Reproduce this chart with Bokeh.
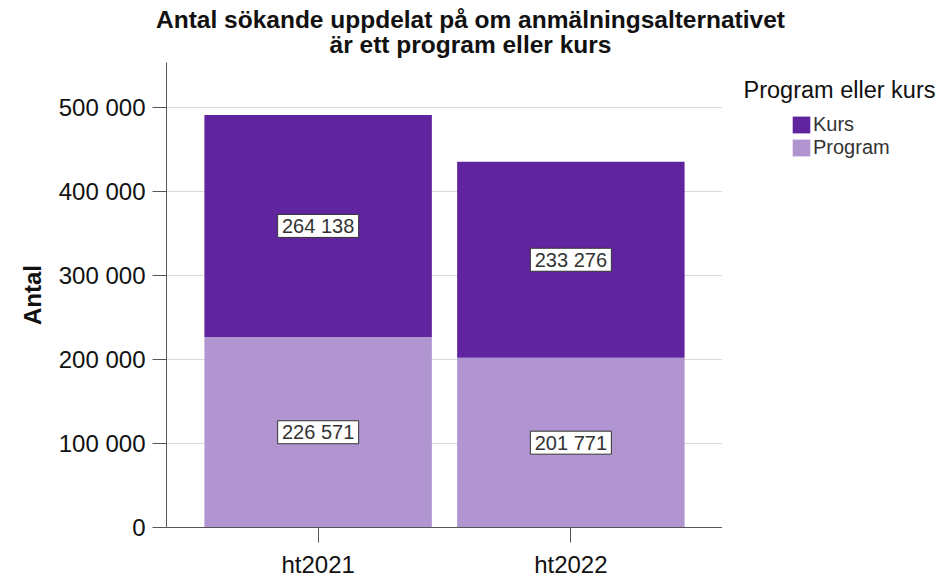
from bokeh.plotting import figure
from bokeh.layouts import column, row
from bokeh.models import (FactorRange, Range1d, FixedTicker, CustomJSTickFormatter,
                          Label, Legend, LegendItem)
from bokeh.core.properties import value
from bokeh.embed import file_html
from bokeh.resources import INLINE

terms = ["ht2021", "ht2022"]
program = [226571, 201771]
kurs = [264138, 233276]
yticks = [0, 100000, 200000, 300000, 400000, 500000]
title_lines = ["Antal sökande uppdelat på om anmälningsalternativet", "är ett program eller kurs"]
legend_title = "Program eller kurs"
y_label = "Antal"

c_kurs = "#60259E"
c_prog = "#B195D1"
FONT = "Liberation Sans"
source = dict(x=terms, Program=program, Kurs=kurs)


def bare(w, h, **kw):
    f = figure(width=w, height=h, output_backend="svg", toolbar_location=None,
               title_location=None, x_axis_type=None, y_axis_type=None,
               min_border=0, **kw)
    f.outline_line_color = None
    f.grid.visible = False
    return f


# ---- title strip ----
tf = bare(944, 62, x_range=Range1d(0, 1), y_range=Range1d(0, 1))
for line, yy in zip(title_lines, (43, 18)):
    tf.add_layout(Label(x=470, y=yy, x_units="screen", y_units="screen",
                        text=line, text_align="center", text_baseline="middle",
                        text_font=FONT, text_font_size="24.5px", text_font_style="bold",
                        text_color="#111111"))

# ---- main chart ----
p = figure(width=722, height=518, output_backend="svg", toolbar_location=None,
           title_location=None,
           x_range=FactorRange(factors=terms, range_padding=0.1),
           y_range=Range1d(0, 553000),
           min_border_left=166, min_border_right=0, min_border_top=0, min_border_bottom=52)
p.outline_line_color = None
rs = p.vbar_stack(["Program", "Kurs"], x="x", width=0.9, source=source,
                  color=[c_prog, c_kurs], line_color=None)

p.xgrid.grid_line_color = None
p.ygrid.grid_line_color = "#dadada"
p.yaxis.ticker = FixedTicker(ticks=yticks)
p.yaxis.formatter = CustomJSTickFormatter(code=r"return tick.toString().replace(/\B(?=(\d{3})+(?!\d))/g, ' ');")
for ax in (p.xaxis, p.yaxis):
    ax.axis_line_color = "#555555"
    ax.major_tick_line_color = "#555555"
    ax.major_tick_in = 0
    ax.minor_tick_line_color = None
    ax.major_label_text_font = FONT
    ax.major_label_text_color = "#111111"
p.yaxis.major_label_text_font_size = "24px"
p.xaxis.major_label_text_font_size = "24px"
p.yaxis.major_tick_out = 14
p.yaxis.major_label_standoff = 7
p.xaxis.major_tick_out = 15
p.xaxis.major_label_standoff = 8
p.yaxis.axis_label = y_label
p.yaxis.axis_label_text_font = FONT
p.yaxis.axis_label_text_font_size = "24px"
p.yaxis.axis_label_text_font_style = "bold"
p.yaxis.axis_label_text_color = "#111111"
p.yaxis.axis_label_standoff = 10

lx, ly, lt = [], [], []
for i, t in enumerate(terms):
    for bottom, val in ((0, program[i]), (program[i], kurs[i])):
        lx.append(t)
        ly.append(bottom + val / 2)
        lt.append(f"{val:,}".replace(",", " "))
lab = dict(x=lx, y=ly, t=lt)
p.rect(x="x", y="y", width=81, height=23, width_units="screen", height_units="screen",
       source=lab, fill_color="white", line_color="#333333", line_width=1)
p.text(x="x", y="y", text="t", source=lab, text_align="center", text_baseline="middle",
       text_font=value(FONT), text_font_size="20px", text_color="#333333")

# ---- legend strip (frame aligned with the chart frame; its bars are zero-width, out of view) ----
lf = bare(222, 518, x_range=FactorRange(factors=terms), y_range=Range1d(-1.2e6, -0.6e6))
lrs = lf.vbar_stack(["Program", "Kurs"], x="x", width=0, source=source,
                    color=[c_prog, c_kurs], line_color=None)
lf.add_layout(Label(x=21, y=438, x_units="screen", y_units="screen", text=legend_title,
                    text_align="left", text_baseline="middle", text_font=FONT,
                    text_font_size="23.5px", text_color="#111111"))
legend = Legend(items=[LegendItem(label="Kurs", renderers=[lrs[1]]),
                       LegendItem(label="Program", renderers=[lrs[0]])],
                location=(68, 368), padding=0, margin=0, spacing=0,
                glyph_width=22, glyph_height=21, label_standoff=1,
                label_text_font=FONT, label_text_font_size="20px", label_text_color="#333333",
                border_line_color=None, background_fill_alpha=0)
lf.add_layout(legend)

layout = column(tf, row(p, lf))
open("out.html", "w").write(file_html(layout, INLINE))
